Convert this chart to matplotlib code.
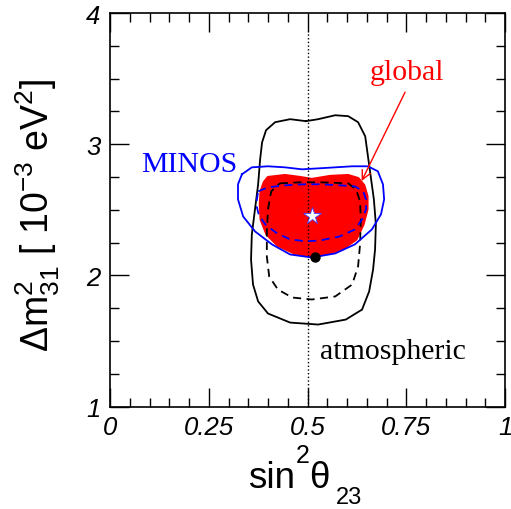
import numpy as np
import matplotlib
matplotlib.use("Agg")
import matplotlib.pyplot as plt
from matplotlib.ticker import MultipleLocator, FixedLocator

plt.rcParams['mathtext.fontset'] = 'custom'
plt.rcParams['mathtext.rm'] = 'Liberation Sans'
plt.rcParams['mathtext.it'] = 'Liberation Sans'
plt.rcParams['mathtext.sf'] = 'Liberation Sans'

# contour data: (sin^2 theta23, dm^2_31 [1e-3 eV^2])
atm_outer_x = [0.496, 0.527, 0.570, 0.603, 0.628, 0.646, 0.653, 0.661, 0.668, 0.673,
               0.671, 0.666, 0.656, 0.638, 0.597, 0.527, 0.456, 0.400, 0.375, 0.362,
               0.357, 0.359, 0.367, 0.375, 0.380, 0.385, 0.395, 0.418, 0.456]
atm_outer_y = [3.176, 3.191, 3.221, 3.214, 3.168, 3.061, 2.908, 2.733, 2.580, 2.389,
               2.198, 2.046, 1.878, 1.740, 1.664, 1.626, 1.641, 1.710, 1.802, 1.931,
               2.122, 2.313, 2.504, 2.695, 2.885, 3.015, 3.107, 3.168, 3.191]

atm_inner_x = [0.430, 0.481, 0.532, 0.603, 0.623, 0.633, 0.635, 0.633, 0.628, 0.613,
               0.570, 0.511, 0.461, 0.425, 0.403, 0.397, 0.397, 0.400, 0.408]
atm_inner_y = [2.702, 2.710, 2.710, 2.702, 2.656, 2.565, 2.427, 2.237, 2.069, 1.931,
               1.840, 1.817, 1.832, 1.893, 1.992, 2.145, 2.336, 2.504, 2.641]

minos_outer_x = [0.334, 0.359, 0.400, 0.443, 0.486, 0.532, 0.570, 0.613, 0.653, 0.678,
                 0.691, 0.694, 0.686, 0.663, 0.620, 0.570, 0.511, 0.456, 0.410, 0.367,
                 0.337, 0.324, 0.324]
minos_outer_y = [2.771, 2.824, 2.832, 2.824, 2.809, 2.817, 2.824, 2.832, 2.832, 2.794,
                 2.695, 2.580, 2.466, 2.351, 2.237, 2.168, 2.137, 2.160, 2.237, 2.336,
                 2.450, 2.580, 2.695]

minos_inner_x = [0.375, 0.400, 0.443, 0.494, 0.532, 0.582, 0.620, 0.641, 0.648, 0.648,
                 0.638, 0.620, 0.582, 0.532, 0.496, 0.456, 0.423, 0.395, 0.377, 0.370]
minos_inner_y = [2.641, 2.672, 2.687, 2.695, 2.695, 2.687, 2.679, 2.641, 2.580, 2.504,
                 2.427, 2.351, 2.298, 2.267, 2.260, 2.275, 2.321, 2.382, 2.458, 2.542]

global_x = [0.400, 0.443, 0.481, 0.511, 0.557, 0.603, 0.628, 0.643, 0.651, 0.651,
            0.641, 0.623, 0.587, 0.519, 0.468, 0.425, 0.397, 0.382, 0.380, 0.382, 0.390]
global_y = [2.748, 2.763, 2.748, 2.733, 2.756, 2.763, 2.740, 2.687, 2.603, 2.504,
            2.389, 2.275, 2.198, 2.145, 2.168, 2.229, 2.313, 2.427, 2.542, 2.641, 2.710]

best_global = (0.511, 2.453)
best_atm = (0.519, 2.137)

x_ticks = [0, 0.25, 0.5, 0.75, 1]
x_ticklabels = ['0', '0.25', '0.5', '0.75', '1']
y_ticks = [1, 2, 3, 4]
y_ticklabels = ['1', '2', '3', '4']


def closed(xs, ys):
    return list(xs) + [xs[0]], list(ys) + [ys[0]]


W, H = 511, 510
fig = plt.figure(figsize=(W / 100, H / 100), dpi=100)
ax = fig.add_axes([0.2153, 0.2006, 0.7730, 0.7719])

ax.plot([0.5, 0.5], [1.0, 3.86], ls=':', color='black', lw=1.0)

gx, gy = closed(global_x, global_y)
ax.fill(gx, gy, color='red', lw=2.0, ec='red', joinstyle='round')

x, y = closed(atm_outer_x, atm_outer_y)
ax.plot(x, y, color='black', lw=1.3, solid_joinstyle='round')
x, y = closed(atm_inner_x, atm_inner_y)
ax.plot(x, y, color='black', lw=1.3, ls=(0, (4.5, 3)))
x, y = closed(minos_outer_x, minos_outer_y)
ax.plot(x, y, color='blue', lw=1.3, solid_joinstyle='round')
x, y = closed(minos_inner_x, minos_inner_y)
ax.plot(x, y, color='blue', lw=1.3, ls=(0, (4.5, 3)))

ax.plot(*best_global, marker='*', ms=13, color='white', mec='#4040ff', mew=0.6)
ax.plot(*best_atm, marker='o', ms=6.5, color='black')

serif = 'Liberation Serif'
ax.text(0.080, 2.794, 'MINOS', color='blue', fontsize=21.5, family=serif)
ax.text(0.658, 3.496, 'global', color='red', fontsize=21.5, family=serif)
ax.text(0.532, 1.372, 'atmospheric', color='black', fontsize=21.5, family=serif)
ax.annotate('', xy=(0.637, 2.720), xytext=(0.747, 3.397),
            arrowprops=dict(arrowstyle='->', color='red', lw=1.0,
                            mutation_scale=16, shrinkA=0, shrinkB=0))

ax.set_xlim(0, 1)
ax.set_ylim(1, 4)
ax.xaxis.set_major_locator(FixedLocator(x_ticks))
ax.yaxis.set_major_locator(FixedLocator(y_ticks))
ax.xaxis.set_minor_locator(MultipleLocator(0.05))
ax.yaxis.set_minor_locator(MultipleLocator(0.25))
ax.set_xticklabels(x_ticklabels)
ax.set_yticklabels(y_ticklabels)
ax.tick_params(which='both', direction='in', top=True, right=True, width=1.0)
ax.tick_params(which='major', length=13.5)
ax.tick_params(which='minor', length=6.5)
ax.tick_params(axis='x', pad=6)
ax.tick_params(axis='y', pad=7)
for lab in ax.get_xticklabels() + ax.get_yticklabels():
    lab.set_family('Liberation Sans')
    lab.set_style('italic')
    lab.set_fontsize(18.5)
for sp in ax.spines.values():
    sp.set_linewidth(1.2)

# x label built from pieces so the scripts keep their large size
sans = 'Liberation Sans'
fig.text(248 / W, 1 - 488 / H, 'sin', fontsize=26.5, family=sans, va='baseline')
fig.text(296 / W, 1 - 463 / H, '2', fontsize=18, family=sans, va='baseline')
fig.text(309 / W, 1 - 488 / H, '\u03b8', fontsize=26.5, family=sans, va='baseline')
fig.text(336 / W, 1 - 504 / H, '23', fontsize=17, family=sans, va='baseline')

fig.text(38 / W, 1 - 215 / H, r'$\Delta$m$^2_{31}$ [ 10$^{-3}$ eV$^2$]',
         fontsize=27, family=sans, ha='center', va='center', rotation=90)

fig.savefig('out.png', dpi=100)
